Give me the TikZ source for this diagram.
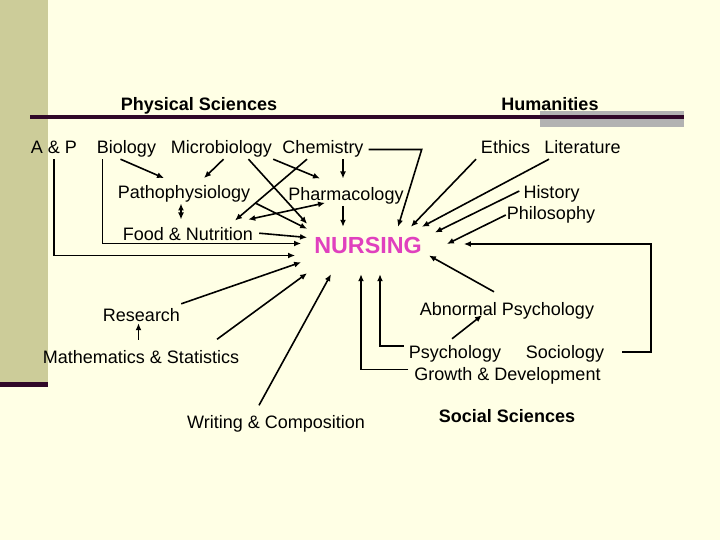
\documentclass[tikz,border=0pt]{standalone}
\usepackage{fontspec}
\setmainfont{Liberation Sans}
\usetikzlibrary{arrows.meta,positioning}

\definecolor{cream}{RGB}{255,255,229}
\definecolor{khaki}{RGB}{204,204,153}
\definecolor{plum}{RGB}{48,8,40}
\definecolor{barGray}{RGB}{178,178,178}
\definecolor{nursePink}{RGB}{224,64,190}

\tikzset{
  subject/.style={inner sep=1pt, text height=13pt, text depth=4pt,
    font=\fontsize{18}{20}\selectfont},
  heading/.style={subject, font=\fontsize{18}{20}\selectfont\bfseries},
  link/.style={->, line width=1.6pt},
  twoway/.style={<->, line width=1.6pt}
}

\begin{document}
\begin{tikzpicture}[>={Latex[length=7pt,width=6pt]}, x=1pt, y=-1pt]
		% 1. Background and slide decoration
		\fill[cream] (0,0) rectangle (720,540);
		\useasboundingbox (0,0) rectangle (720,540);
		\fill[khaki] (0,0) rectangle (47.5,382);
		\fill[plum] (0,382) rectangle (47.5,387);
		\fill[barGray] (540,111) rectangle (684,127);
		\fill[plum] (30,115.5) rectangle (684,119);

		% 2. Group headings
		\node[heading] (physci) at (199,106) {Physical Sciences};
		\node[heading] (human) at (550,106) {Humanities};
		\node[heading] (socsci) at (507,418) {Social Sciences};

		% 3. Subjects
		\node[subject] (aandp) at (54,149.5) {A \& P};
		\node[subject] (bio) at (126.5,149.5) {Biology};
		\node[subject] (micro) at (221.5,149.5) {Microbiology};
		\node[subject] (chem) at (323,149.5) {Chemistry};
		\node[subject] (ethics) at (505.5,149.5) {Ethics};
		\node[subject] (lit) at (582.5,149.5) {Literature};
		\node[subject] (patho) at (184,193.8) {Pathophysiology};
		\node[subject] (pharm) at (346,196.2) {Pharmacology};
		\node[subject] (hist) at (551.5,194) {History};
		\node[subject] (philo) at (551,215) {Philosophy};
		\node[subject] (food) at (188,236.2) {Food \& Nutrition};
		\node[subject] (research) at (141.5,316.5) {Research};
		\node[subject] (math) at (141,359) {Mathematics \& Statistics};
		\node[subject] (writing) at (276,424) {Writing \& Composition};
		\node[subject] (abn) at (507,310.5) {Abnormal Psychology};
		\node[subject] (psych) at (455,354) {Psychology};
		\node[subject] (socio) at (565,354) {Sociology};
		\node[subject] (growth) at (507.5,375.5) {Growth \& Development};

		% 4. The centre
		\node[text=nursePink, font=\fontsize{23.3}{26}\selectfont\bfseries,
		  text height=17pt, text depth=0pt, inner xsep=7pt, inner ysep=10pt]
		  (nursing) at (368,245.5) {NURSING};

		% 5. Physical sciences arrows
		\draw[link] ([xshift=-6pt]bio.south) -- ([xshift=-20pt,yshift=6pt]patho.north);
		\draw[link] ([xshift=2pt]micro.south) -- ([xshift=20pt,yshift=6pt]patho.north);
		\draw[link] ([xshift=27pt]micro.south) -- ([yshift=3pt]nursing.north west);
		\draw[link] (micro.south east) -- ([xshift=-26pt,yshift=8pt]pharm.north);
		\draw[link] ([xshift=-16pt]chem.south) -- ([xshift=47pt,yshift=6pt]food.north);
		\draw[link] ([xshift=20pt]chem.south) -- ([xshift=-3pt,yshift=8pt]pharm.north);
		\draw[link] ([xshift=4pt]chem.east) -- ++(53,0) -- ([xshift=30pt]nursing.north);
		\draw[twoway] ([xshift=-3pt]patho.south) -- ([xshift=-7pt,yshift=7pt]food.north);
		\draw[link] ([xshift=5pt]patho.south east) -- ([yshift=-2pt]nursing.north west);
		\draw[twoway] ([xshift=-6pt,yshift=7pt]food.north east) -- ([xshift=-21pt,yshift=3pt]pharm.south);
		\draw[link] ([xshift=-3pt]pharm.south) -- ([xshift=-25pt]nursing.north);
		\draw[link] ([xshift=5pt,yshift=3pt]food.east) -- ([yshift=8pt]nursing.west);
		\draw[link] ([xshift=-24pt]bio.south) |- ([xshift=-6pt,yshift=2pt]nursing.west);
		\draw[link] (aandp.south) |- ([xshift=-12pt,yshift=-10pt]nursing.west);

		% 6. Mathematics, research and writing
		\draw[link] ([yshift=3pt]research.north east) -- ([xshift=-6pt,yshift=2pt]nursing.south west);
		\draw[link] ([xshift=-2.5pt,yshift=9.5pt]math.north) -- ([xshift=-3pt,yshift=3pt]research.south);
		\draw[link] ([xshift=76pt,yshift=10pt]math.north) -- ([yshift=-9pt]nursing.south west);
		\draw[link] ([xshift=-17pt,yshift=9pt]writing.north) -- ([xshift=-37pt,yshift=-10pt]nursing.south);

		% 7. Social sciences arrows
		\draw[link] ([xshift=-5pt,yshift=6pt]growth.west) -| ([xshift=-7pt,yshift=-10pt]nursing.south);
		\draw[link] ([xshift=-4pt,yshift=8pt]psych.west) -| ([xshift=12pt,yshift=-10pt]nursing.south);
		\draw[link] ([xshift=-3pt,yshift=5.5pt]psych.north) -- ([xshift=-25pt,yshift=5pt]abn.south);
		\draw[link] ([xshift=-13pt,yshift=9pt]abn.north) -- ([yshift=-10pt]nursing.east);
		\draw[link] ([xshift=17pt,yshift=2pt]socio.east) -- ++(29,0) |- ([xshift=35pt,yshift=1.5pt]nursing.east);

		% 8. Humanities arrows
		\draw[link] ([xshift=-29.5pt]ethics.south) -- ([xshift=-18pt]nursing.north east);
		\draw[link] ([xshift=-33.5pt]lit.south) -- ([xshift=-7pt]nursing.north east);
		\draw[link] ([xshift=-3pt,yshift=3pt]hist.west) -- ([xshift=6pt,yshift=13pt]nursing.east);
		\draw[link] (philo.west) -- ([xshift=18pt,yshift=1.5pt]nursing.east);
	\end{tikzpicture}
\end{document}
